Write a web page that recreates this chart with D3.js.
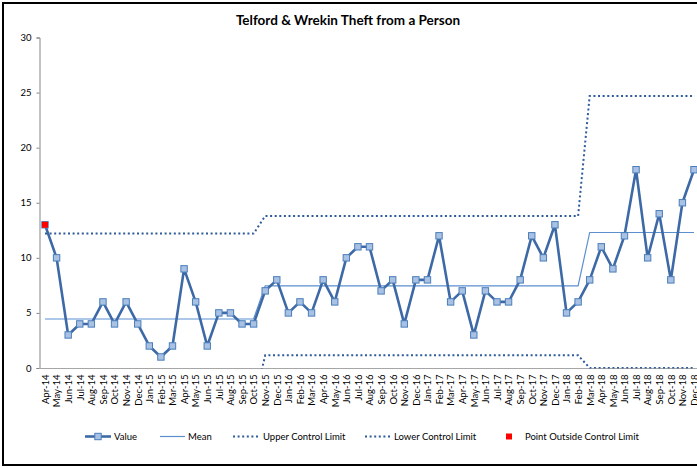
<!DOCTYPE html>
<html>
<head>
<meta charset="utf-8">
<script src="https://cdn.jsdelivr.net/npm/d3@7"></script>
<style>
  body { margin: 0; background: #fff; }
  svg { display: block; font-family: Lato, "Open Sans", sans-serif; }
</style>
</head>
<body>
<div id="chart-area"></div>
<script>
var months = ["Apr-14","May-14","Jun-14","Jul-14","Aug-14","Sep-14","Oct-14","Nov-14","Dec-14",
  "Jan-15","Feb-15","Mar-15","Apr-15","May-15","Jun-15","Jul-15","Aug-15","Sep-15","Oct-15","Nov-15","Dec-15",
  "Jan-16","Feb-16","Mar-16","Apr-16","May-16","Jun-16","Jul-16","Aug-16","Sep-16","Oct-16","Nov-16","Dec-16",
  "Jan-17","Feb-17","Mar-17","Apr-17","May-17","Jun-17","Jul-17","Aug-17","Sep-17","Oct-17","Nov-17","Dec-17",
  "Jan-18","Feb-18","Mar-18","Apr-18","May-18","Jun-18","Jul-18","Aug-18","Sep-18","Oct-18","Nov-18","Dec-18"];

var values = [13,10,3,4,4,6,4,6,4,
  2,1,2,9,6,2,5,5,4,4,7,8,
  5,6,5,8,6,10,11,11,7,8,4,8,
  8,12,6,7,3,7,6,6,8,12,10,13,
  5,6,8,11,9,12,18,10,14,8,15,18];

// control limits per period: Apr-14..Oct-15, Nov-15..Feb-18, Mar-18..Dec-18
var periodEnds = [18, 46, 56];
var periodMean = [4.45, 7.45, 12.3];
var periodUcl = [12.2, 13.8, 24.7];
var periodLcl = [-3.3, 1.15, 0];

var outsideIdx = [0];

var yTicks = [0, 5, 10, 15, 20, 25, 30];

function periodOf(i) {
  for (var p = 0; p < periodEnds.length; p++) if (i <= periodEnds[p]) return p;
  return periodEnds.length - 1;
}
var rows = months.map(function(m, i) {
  var p = periodOf(i);
  return { month: m, value: values[i], mean: periodMean[p], ucl: periodUcl[p], lcl: periodLcl[p] };
});

var width = 697, height = 468;

var svg = d3.select("#chart-area")
  .append("svg")
  .attr("width", width)
  .attr("height", height);

svg.append("rect")
  .attr("x", 3).attr("y", 3)
  .attr("width", 710).attr("height", 462)
  .attr("fill", "#fff")
  .attr("stroke", "#000")
  .attr("stroke-width", 2);

svg.append("text")
  .attr("x", 348).attr("y", 25)
  .attr("text-anchor", "middle")
  .attr("font-size", 13.5)
  .attr("font-weight", "bold")
  .attr("fill", "#000")
  .text("Telford & Wrekin Theft from a Person");

var x = d3.scalePoint().domain(months).range([45, 694]);
var y = d3.scaleLinear().domain([0, 30]).range([368, 37.5]);

svg.append("defs").append("clipPath").attr("id", "plot")
  .append("rect").attr("x", 39).attr("y", 30).attr("width", 670).attr("height", 338.5);

// y axis
var yAxis = svg.append("g")
  .attr("transform", "translate(39.5,0)")
  .call(d3.axisLeft(y).tickValues(yTicks).tickSize(3).tickPadding(5));
yAxis.select(".domain").attr("stroke", "#868686");
yAxis.selectAll(".tick line").attr("stroke", "#868686");
yAxis.selectAll(".tick text").attr("font-size", 9.5).attr("fill", "#000")
  .attr("font-family", "Lato, sans-serif");

// x axis
var xAxis = svg.append("g")
  .attr("transform", "translate(0,368.5)")
  .call(d3.axisBottom(x).tickSize(0).tickPadding(6));
xAxis.select(".domain").remove();
xAxis.append("line").attr("x1", 39).attr("x2", width).attr("stroke", "#a6a6a6").attr("stroke-width", 1.2);
xAxis.selectAll(".tick text")
  .attr("font-size", 9.5).attr("fill", "#000")
  .attr("font-family", "Lato, sans-serif")
  .attr("transform", "rotate(-90)")
  .attr("text-anchor", "end")
  .attr("x", -6).attr("y", 0).attr("dy", "0.35em");

var plot = svg.append("g").attr("clip-path", "url(#plot)");

function lineFor(key) {
  return d3.line().x(function(d) { return x(d.month); }).y(function(d) { return y(d[key]); });
}

plot.append("path").datum(rows)
  .attr("d", lineFor("lcl"))
  .attr("fill", "none").attr("stroke", "#2e5b9a").attr("stroke-width", 2)
  .attr("stroke-dasharray", "2,2.6");

plot.append("path").datum(rows)
  .attr("d", lineFor("ucl"))
  .attr("fill", "none").attr("stroke", "#2e5b9a").attr("stroke-width", 2)
  .attr("stroke-dasharray", "2,2.6");

plot.append("path").datum(rows)
  .attr("d", lineFor("mean"))
  .attr("fill", "none").attr("stroke", "#5b8fd0").attr("stroke-width", 1.2);

plot.append("path").datum(rows)
  .attr("d", lineFor("value"))
  .attr("fill", "none").attr("stroke", "#3d6aa6").attr("stroke-width", 2.6)
  .attr("stroke-linejoin", "round");

svg.selectAll(".marker").data(rows).enter()
  .append("rect").attr("class", "marker")
  .attr("x", function(d) { return x(d.month) - 3.2; })
  .attr("y", function(d) { return y(d.value) - 3.2; })
  .attr("width", 6.4).attr("height", 6.4)
  .attr("fill", "#a9c1e3").attr("stroke", "#4a7ebb").attr("stroke-width", 1);

svg.selectAll(".outside").data(outsideIdx).enter()
  .append("rect").attr("class", "outside")
  .attr("x", function(i) { return x(months[i]) - 3; })
  .attr("y", function(i) { return y(values[i]) - 3; })
  .attr("width", 6).attr("height", 6)
  .attr("fill", "#ff0000");

// legend
var ly = 436.5;
var legend = svg.append("g").attr("font-size", 9.5).attr("fill", "#000");

legend.append("line").attr("x1", 85).attr("x2", 111).attr("y1", ly).attr("y2", ly)
  .attr("stroke", "#3d6aa6").attr("stroke-width", 2.6);
legend.append("rect").attr("x", 98 - 3.2).attr("y", ly - 3.2).attr("width", 6.4).attr("height", 6.4)
  .attr("fill", "#a9c1e3").attr("stroke", "#4a7ebb").attr("stroke-width", 1);
legend.append("text").attr("x", 114).attr("y", ly).attr("dy", "0.35em").text("Value");

legend.append("line").attr("x1", 160).attr("x2", 185).attr("y1", ly).attr("y2", ly)
  .attr("stroke", "#5b8fd0").attr("stroke-width", 1.2);
legend.append("text").attr("x", 188).attr("y", ly).attr("dy", "0.35em").text("Mean");

legend.append("line").attr("x1", 233).attr("x2", 259).attr("y1", ly).attr("y2", ly)
  .attr("stroke", "#2e5b9a").attr("stroke-width", 2).attr("stroke-dasharray", "2,2.6");
legend.append("text").attr("x", 263).attr("y", ly).attr("dy", "0.35em").text("Upper Control Limit");

legend.append("line").attr("x1", 365).attr("x2", 391).attr("y1", ly).attr("y2", ly)
  .attr("stroke", "#2e5b9a").attr("stroke-width", 2).attr("stroke-dasharray", "2,2.6");
legend.append("text").attr("x", 394).attr("y", ly).attr("dy", "0.35em").text("Lower Control Limit");

legend.append("rect").attr("x", 506).attr("y", ly - 3).attr("width", 6).attr("height", 6).attr("fill", "#ff0000");
legend.append("text").attr("x", 525).attr("y", ly).attr("dy", "0.35em").text("Point Outside Control Limit");
</script>
</body>
</html>
